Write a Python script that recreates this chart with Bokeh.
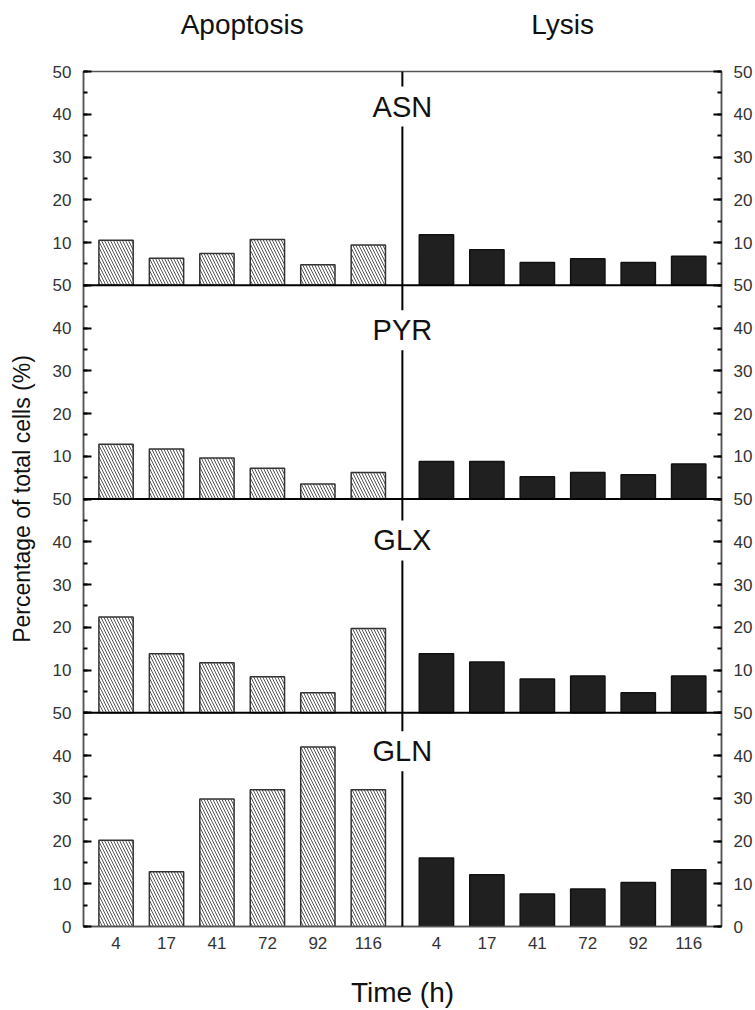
from bokeh.plotting import figure
from bokeh.models import Range1d, FixedTicker, LinearAxis, Span, Label, ColumnDataSource
from bokeh.embed import file_html
from bokeh.resources import INLINE
import numpy as np

# ---------------- data ----------------
times = ["4", "17", "41", "72", "92", "116"]
groups = ["Apoptosis", "Lysis"]
panels = ["ASN", "PYR", "GLX", "GLN"]          # top to bottom

asn_apoptosis = [10.5, 6.3, 7.4, 10.7, 4.8, 9.4]
asn_lysis     = [11.8, 8.3, 5.3, 6.2, 5.3, 6.8]
pyr_apoptosis = [12.8, 11.7, 9.6, 7.2, 3.5, 6.2]
pyr_lysis     = [8.8, 8.8, 5.2, 6.2, 5.7, 8.2]
glx_apoptosis = [22.4, 13.8, 11.7, 8.4, 4.7, 19.7]
glx_lysis     = [13.8, 11.9, 7.9, 8.6, 4.7, 8.6]
gln_apoptosis = [20.2, 12.8, 29.8, 32.0, 42.0, 32.0]
gln_lysis     = [16.0, 12.1, 7.6, 8.8, 10.3, 13.3]

apoptosis_series = [asn_apoptosis, pyr_apoptosis, glx_apoptosis, gln_apoptosis]
lysis_series = [asn_lysis, pyr_lysis, glx_lysis, gln_lysis]

y_ticks = list(range(0, 201, 10))
y_minor = list(range(0, 201, 5))

# ---------------- layout constants ----------------
PANEL = 50
GROUP_GAP = 6.35
BAR_W = 0.68
PAD_L, PAD_R = 0.645, 0.65
LABEL_Y = [41.8, 39.5, 40.3, 41.0]
FONT = "Liberation Sans"

left_x = [float(i) for i in range(len(times))]
right_x = [round(i + GROUP_GAP, 3) for i in range(len(times))]
divider_x = round((left_x[-1] + right_x[0]) / 2, 3)
n = len(panels)

p = figure(width=755, height=1010, output_backend="svg", toolbar_location=None,
           x_range=Range1d(left_x[0] - PAD_L, right_x[-1] + PAD_R),
           y_range=Range1d(0, PANEL * n),
           min_border_left=83, min_border_right=34, min_border_top=71, min_border_bottom=83)
p.xgrid.visible = False
p.ygrid.visible = False
p.outline_line_color = "#555555"
p.outline_line_width = 1.5
p.background_fill_color = "white"
p.border_fill_color = "white"

for i, name in enumerate(panels):
    off = (n - 1 - i) * PANEL
    a = np.array(apoptosis_series[i])
    l = np.array(lysis_series[i])
    src_a = ColumnDataSource(dict(x=left_x, bottom=[off] * len(a), top=off + a))
    src_l = ColumnDataSource(dict(x=right_x, bottom=[off] * len(l), top=off + l))
    p.vbar(x="x", bottom="bottom", top="top", width=BAR_W, source=src_a,
           fill_color="white", line_color="#333333", line_width=1.5,
           hatch_pattern="\\", hatch_color="#555555", hatch_scale=6, hatch_weight=1)
    p.vbar(x="x", bottom="bottom", top="top", width=BAR_W, source=src_l,
           fill_color="#202020", line_color="#111111", line_width=1.5)

for k in range(1, n):
    p.add_layout(Span(location=k * PANEL, dimension="width", line_color="black", line_width=2))
p.add_layout(Span(location=divider_x, dimension="height", line_color="black", line_width=2))

for i, name in enumerate(panels):
    off = (n - 1 - i) * PANEL
    p.add_layout(Label(x=divider_x, y=off + LABEL_Y[i], text=name, text_align="center",
                       text_baseline="middle", text_font=FONT, text_font_size="29px",
                       text_color="#111111", background_fill_color="white", padding=4))

# y tick labels: each panel shows 10..50, bottom shows 0
overrides = {v: ("0" if v == 0 else str(v % PANEL if v % PANEL else PANEL)) for v in y_ticks}


def style_y(ax):
    ax.ticker = FixedTicker(ticks=y_ticks, minor_ticks=y_minor)
    ax.major_label_overrides = overrides
    ax.major_tick_in = 8
    ax.major_tick_out = 0
    ax.minor_tick_in = 4
    ax.minor_tick_out = 0
    ax.major_tick_line_width = 2
    ax.minor_tick_line_width = 2
    ax.major_tick_line_color = "black"
    ax.minor_tick_line_color = "black"
    ax.axis_line_color = "#555555"
    ax.axis_line_width = 1.5
    ax.major_label_text_font = FONT
    ax.major_label_text_font_size = "17px"
    ax.major_label_text_color = "#333333"
    ax.major_label_standoff = 12


yl = p.yaxis[0]
style_y(yl)
yl.axis_label = "Percentage of total cells (%)"
yl.axis_label_text_font = FONT
yl.axis_label_text_font_size = "23px"
yl.axis_label_text_font_style = "normal"
yl.axis_label_text_color = "#111111"
yl.axis_label_standoff = 15

yr = LinearAxis()
style_y(yr)
p.add_layout(yr, "right")

xb = p.xaxis[0]
xb.ticker = FixedTicker(ticks=left_x + right_x, minor_ticks=[])
xb.major_label_overrides = {x: t for x, t in zip(left_x + right_x, times + times)}
xb.major_tick_in = 0
xb.major_tick_out = 0
xb.minor_tick_line_color = None
xb.axis_line_color = "#555555"
xb.axis_line_width = 1.5
xb.major_label_text_font = FONT
xb.major_label_text_font_size = "17px"
xb.major_label_text_color = "#333333"
xb.major_label_standoff = 10
xb.axis_label = "Time (h)"
xb.axis_label_text_font = FONT
xb.axis_label_text_font_size = "28px"
xb.axis_label_text_font_style = "normal"
xb.axis_label_text_color = "#111111"
xb.axis_label_standoff = 25

group_centers = [round(float(np.mean(left_x)), 3), round(float(np.mean(right_x)), 3)]
xa = LinearAxis(ticker=FixedTicker(ticks=group_centers, minor_ticks=[]))
xa.major_label_overrides = {c: g for c, g in zip(group_centers, groups)}
xa.axis_line_color = None
xa.major_tick_line_color = None
xa.minor_tick_line_color = None
xa.major_label_text_font = FONT
xa.major_label_text_font_size = "28px"
xa.major_label_text_color = "#111111"
xa.major_label_standoff = 26
p.add_layout(xa, "above")

open("out.html", "w").write(file_html(p, INLINE))
